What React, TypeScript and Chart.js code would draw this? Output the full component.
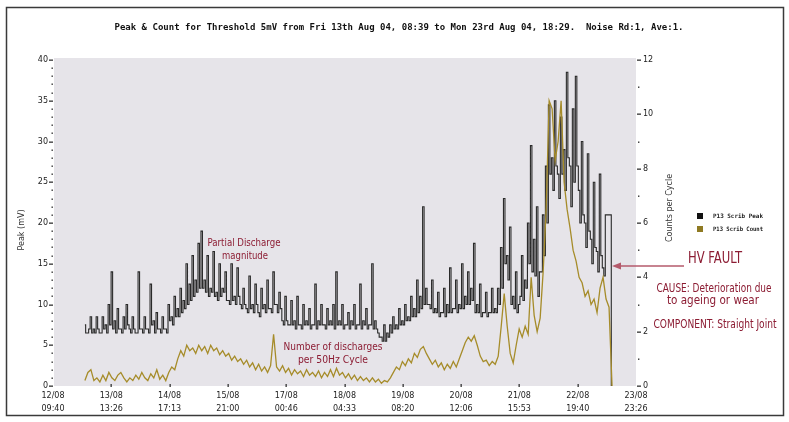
import React, { useEffect, useRef } from 'react';
import { Chart, registerables } from 'chart.js';

Chart.register(...registerables);

const chartTitle =
  'Peak & Count for Threshold 5mV from Fri 13th Aug 04, 08:39 to Mon 23rd Aug 04, 18:29.  Noise Rd:1, Ave:1.';
const leftAxisTitle = 'Peak (mV)';
const rightAxisTitle = 'Counts per Cycle';
const legendLabels = ['P13 Scrib Peak', 'P13 Scrib Count'];

const xDateLabels = ['12/08', '13/08', '14/08', '15/08', '17/08', '18/08', '19/08', '20/08', '21/08', '22/08', '23/08'];
const xTimeLabels = ['09:40', '13:26', '17:13', '21:00', '00:46', '04:33', '08:20', '12:06', '15:53', '19:40', '23:26'];
const TOTAL_HOURS = 277.77;

// samples: first sample hour and sampling step (hours)
const START_HOUR = 15.2;
const STEP_HOUR = 1.427;

// upper excursion of the peak trace in each sample
const peakHigh = [
  7.5, 6.5, 8.5, 7, 8.5, 6.5, 8.5, 7.5, 10, 14, 8, 9.5, 7, 8.5, 10, 7, 8.5, 6.5, 14, 7,
  8.5, 7, 12.5, 8, 9, 7, 8.5, 7, 10, 8.5, 11, 9.5, 12, 10.5, 15, 12.5, 16, 13, 17.5, 19,
  13, 16, 12, 16.5, 11.5, 15, 12, 14, 10.5, 15, 11, 14.5, 10, 12, 9.5, 13.5, 10, 12.5, 9, 12,
  10, 13, 9.5, 14, 10, 11.5, 8, 11, 7.5, 10.5, 8, 11, 7.5, 10, 8, 9.5, 7.5, 12.5, 8, 10,
  7.5, 9.5, 8, 10, 14, 8, 10, 7.5, 9, 8, 10, 7.5, 12.5, 8, 9.5, 7.5, 15, 8, 6.5, 6,
  7.5, 6.5, 7.5, 8.5, 7.5, 9.5, 8, 10, 8.5, 11, 9.5, 13, 11, 22, 12, 10, 13, 9.5, 11.5, 9,
  12, 10, 14.5, 9.5, 13, 10, 15, 11, 14, 12, 17.5, 10, 12.5, 9, 11.5, 9, 12, 9.5, 12, 17,
  23, 16, 19.5, 11, 14, 10, 16, 13, 20, 29.5, 18, 22, 14, 21, 27, 34.5, 28, 35, 26, 33,
  29, 38.5, 27, 34, 38, 24, 30, 20, 28.5, 18, 25, 16.5, 26, 14.5, 21, 21, 0,
];

// lower excursion of the peak trace in each sample
const peakLow = [
  6.5, 7, 6.5, 6.5, 7, 6.5, 7, 6.5, 7.5, 7, 6.5, 7, 6.5, 7, 7.5, 6.5, 7, 6.5, 7, 6.5,
  7, 6.5, 7.5, 6.5, 7, 6.5, 7, 6.5, 8, 7.5, 8.5, 8.5, 9, 9.5, 10, 10.5, 11, 11.5, 12, 12,
  11.5, 11, 11.5, 11, 10.5, 11, 11.5, 10.5, 10, 10.5, 10, 11, 9.5, 10, 9, 9.5, 9, 10, 8.5, 9.5,
  9, 9.5, 9, 10, 9, 9.5, 7.5, 8, 7.5, 7.5, 7, 7.5, 7, 7.5, 7.5, 7, 7.5, 7, 7.5, 7.5,
  7, 7.5, 7.5, 7, 7.5, 7.5, 7, 7.5, 7, 7.5, 7, 7.5, 7, 7.5, 7, 7.5, 7, 7, 6, 5.5,
  5.5, 6, 6.5, 7, 7, 7.5, 7.5, 8, 8, 8.5, 8.5, 9, 9.5, 10, 10, 9.5, 9, 9, 8.5, 9,
  8.5, 9, 9, 9.5, 9, 9.5, 9.5, 10, 10, 10.5, 9, 9, 8.5, 9, 8.5, 9, 9, 9, 10, 12,
  15, 13, 10, 9.5, 9, 11, 10.5, 12, 15, 14, 13.5, 11, 14, 16, 20, 26, 24, 27, 23, 26,
  24, 28, 22, 25, 27, 20, 21, 17, 19, 15, 17, 14, 16, 13.5, 21, 21, 0,
];

const countValues = [
  0.2, 0.5, 0.6, 0.2, 0.3, 0.15, 0.4, 0.2, 0.5, 0.3, 0.2, 0.4, 0.5, 0.3, 0.15, 0.3, 0.2, 0.4, 0.25, 0.5,
  0.3, 0.2, 0.45, 0.3, 0.6, 0.25, 0.4, 0.2, 0.5, 0.7, 0.6, 1.0, 1.3, 1.1, 1.5, 1.3, 1.4, 1.2, 1.5, 1.3,
  1.45, 1.2, 1.5, 1.3, 1.4, 1.15, 1.3, 1.1, 1.2, 0.95, 1.1, 0.9, 1.0, 0.8, 0.95, 0.7, 0.85, 0.6, 0.8, 0.55,
  0.7, 0.5, 0.75, 1.9, 0.7, 0.55, 0.75, 0.5, 0.65, 0.4, 0.6, 0.45, 0.55, 0.35, 0.6, 0.4, 0.5, 0.35, 0.55, 0.3,
  0.5, 0.35, 0.6, 0.35, 0.65, 0.4, 0.5, 0.3, 0.45, 0.25, 0.4, 0.2, 0.35, 0.2, 0.3, 0.15, 0.3, 0.15, 0.25, 0.1,
  0.2, 0.15, 0.3, 0.5, 0.7, 0.6, 0.9, 0.75, 1.0, 0.85, 1.2, 1.05, 1.35, 1.45, 1.2, 1.0, 0.8, 0.95, 0.7, 0.85,
  0.6, 0.8, 0.65, 0.9, 0.7, 1.0, 1.3, 1.6, 1.8, 1.65, 1.85, 1.5, 1.1, 0.9, 0.95, 0.75, 0.9, 0.8, 1.1, 2.2,
  3.4, 2.2, 1.2, 0.85, 1.5, 2.1, 1.8, 2.2, 1.9, 4.0, 2.6, 2.0, 2.5, 4.2, 6.5, 10.5, 10.2, 8.3, 9.0, 10.5,
  7.5, 6.5, 5.8, 5.0, 4.6, 4.0, 3.8, 3.3, 3.5, 3.0, 3.2, 2.7, 3.6, 4.0, 3.2, 2.9, 0,
];

const annotations = [
  { text: 'Partial Discharge', cx: 244, cy: 243, size: 11, width: 73 },
  { text: 'magnitude', cx: 245, cy: 256, size: 11, width: 46 },
  { text: 'Number of discharges', cx: 333, cy: 347, size: 11, width: 99 },
  { text: 'per 50Hz Cycle', cx: 333, cy: 360, size: 11, width: 70 },
  { text: 'HV FAULT', cx: 715, cy: 259, size: 15, width: 54 },
  { text: 'CAUSE: Deterioration due', cx: 714, cy: 289, size: 12, width: 115 },
  { text: 'to ageing or wear', cx: 713, cy: 301, size: 12, width: 92 },
  { text: 'COMPONENT: Straight Joint', cx: 715, cy: 325, size: 12, width: 123 },
];

const NARROW = "'Liberation Sans Narrow', 'DejaVu Sans Condensed', 'Liberation Sans', sans-serif";

const decorPlugin = {
  id: 'decor',
  beforeDraw(chart: any) {
    const { ctx, chartArea } = chart;
    ctx.save();
    ctx.fillStyle = '#ffffff';
    ctx.fillRect(0, 0, chart.width, chart.height);
    ctx.fillStyle = '#e6e4e9';
    ctx.fillRect(chartArea.left + 1, chartArea.top - 2, chartArea.right - chartArea.left - 1, chartArea.bottom - chartArea.top + 2);
    ctx.restore();
  },
  afterDraw(chart: any) {
    const { ctx, chartArea } = chart;
    const { left, right, bottom } = chartArea;
    const ys = chart.scales.y;
    const ys2 = chart.scales.y2;
    const xs = chart.scales.x;
    ctx.save();
    ctx.fillStyle = '#333';
    for (let v = 0; v <= 40; v++) {
      const py = Math.round(ys.getPixelForValue(v));
      if (v % 5 === 0) ctx.fillRect(left - 4, py - 0.5, 4, 1.3);
      else ctx.fillRect(left - 1.5, py - 0.5, 1.4, 1.4);
    }
    for (let v = 0; v <= 12; v++) {
      const py = Math.round(ys2.getPixelForValue(v));
      if (v % 2 === 0) ctx.fillRect(right + 1, py - 0.5, 4, 1.3);
      else ctx.fillRect(right + 2, py - 0.5, 1.4, 1.4);
    }
    for (let i = 1; i < xDateLabels.length - 1; i++) {
      const px = Math.round(xs.getPixelForValue((i * TOTAL_HOURS) / 10));
      ctx.fillRect(px - 0.5, bottom - 2, 1.3, 3);
    }

    ctx.fillStyle = '#111';
    ctx.font = "bold 9px 'DejaVu Sans Mono', monospace";
    ctx.textAlign = 'center';
    ctx.textBaseline = 'middle';
    ctx.fillText(chartTitle, 399, 28, 582);

    ctx.font = "8px 'DejaVu Sans', sans-serif";
    ctx.fillStyle = '#333';
    ctx.save();
    ctx.translate(22, 230);
    ctx.rotate(-Math.PI / 2);
    ctx.fillText(leftAxisTitle, 0, 0);
    ctx.restore();
    ctx.save();
    ctx.translate(670, 208);
    ctx.rotate(-Math.PI / 2);
    ctx.fillText(rightAxisTitle, 0, 0, 78);
    ctx.restore();

    const legendColors = ['#111111', '#8f7a22'];
    legendLabels.forEach((lab, i) => {
      const y = 216 + i * 13;
      ctx.fillStyle = legendColors[i];
      ctx.fillRect(697, y - 3, 6, 6);
      ctx.fillStyle = '#222';
      ctx.font = "bold 6px 'DejaVu Sans Mono', monospace";
      ctx.textAlign = 'left';
      ctx.fillText(lab, 713, y, 50);
    });

    ctx.fillStyle = '#8c1c33';
    ctx.textAlign = 'center';
    annotations.forEach((a) => {
      ctx.font = `${a.size}px ${NARROW}`;
      ctx.fillText(a.text, a.cx, a.cy, a.width);
    });

    ctx.strokeStyle = '#b45a6b';
    ctx.fillStyle = '#b45a6b';
    ctx.lineWidth = 1.5;
    ctx.beginPath();
    ctx.moveTo(620, 266);
    ctx.lineTo(684, 266);
    ctx.stroke();
    ctx.beginPath();
    ctx.moveTo(612, 266);
    ctx.lineTo(621, 262.5);
    ctx.lineTo(621, 269.5);
    ctx.closePath();
    ctx.fill();

    ctx.strokeStyle = '#3a3a3a';
    ctx.lineWidth = 1.5;
    ctx.strokeRect(6.5, 7.5, 777, 408);
    ctx.restore();
  },
};

export default function App() {
  const ref = useRef<HTMLCanvasElement | null>(null);

  useEffect(() => {
    if (!ref.current) return;
    const peakPts: { x: number; y: number }[] = [];
    peakHigh.forEach((v, i) => {
      const t = START_HOUR + i * STEP_HOUR;
      peakPts.push({ x: t, y: v });
      if (i < peakHigh.length - 1) peakPts.push({ x: t + STEP_HOUR / 2, y: peakLow[i] });
    });
    const countPts = countValues.map((v, i) => ({ x: START_HOUR + i * STEP_HOUR, y: v }));
    const tickFont = { family: "'DejaVu Sans', sans-serif", size: 8, lineHeight: 1.6 };

    const chart = new Chart(ref.current, {
      type: 'line',
      data: {
        datasets: [
          {
            label: legendLabels[1],
            data: countPts,
            yAxisID: 'y2',
            borderColor: '#a68c2a',
            borderWidth: 1.3,
            pointRadius: 0,
            tension: 0,
          },
          {
            label: legendLabels[0],
            data: peakPts,
            yAxisID: 'y',
            borderColor: '#2a2a2a',
            borderWidth: 1.1,
            pointRadius: 0,
            stepped: 'middle',
          },
        ],
      },
      options: {
        animation: false,
        responsive: false,
        maintainAspectRatio: false,
        layout: { padding: { top: 60, right: 113, bottom: 0, left: 0 } },
        plugins: {
          legend: { display: false },
          title: { display: false },
          tooltip: { enabled: false },
        },
        scales: {
          x: {
            type: 'linear',
            min: 0,
            max: TOTAL_HOURS,
            grid: { display: false, drawTicks: false },
            border: { display: false },
            afterBuildTicks: (s: any) => {
              s.ticks = xDateLabels.map((_, i) => ({ value: (i * TOTAL_HOURS) / 10 }));
            },
            afterFit: (s: any) => {
              s.height = 36;
            },
            ticks: {
              autoSkip: false,
              maxRotation: 0,
              minRotation: 0,
              padding: 4,
              color: '#222',
              font: tickFont,
              callback: (_v: any, i: number) => [xDateLabels[i], xTimeLabels[i]],
            },
          },
          y: {
            position: 'left',
            min: 0,
            max: 40,
            grid: { display: false, drawTicks: false },
            border: { display: false },
            afterFit: (s: any) => {
              s.width = 53;
            },
            ticks: { stepSize: 5, padding: 5, color: '#222', font: tickFont },
          },
          y2: {
            position: 'right',
            min: 0,
            max: 12,
            grid: { display: false, drawTicks: false },
            border: { display: false },
            afterFit: (s: any) => {
              s.width = 40;
            },
            ticks: { stepSize: 2, padding: 7, color: '#222', font: tickFont },
          },
        },
      },
      plugins: [decorPlugin],
    } as any);
    return () => chart.destroy();
  }, []);

  return (
    <div style={{ position: 'absolute', left: 0, top: 0, width: 789, height: 422 }}>
      <canvas ref={ref} width={789} height={422} style={{ display: 'block', width: 789, height: 422 }} />
    </div>
  );
}
